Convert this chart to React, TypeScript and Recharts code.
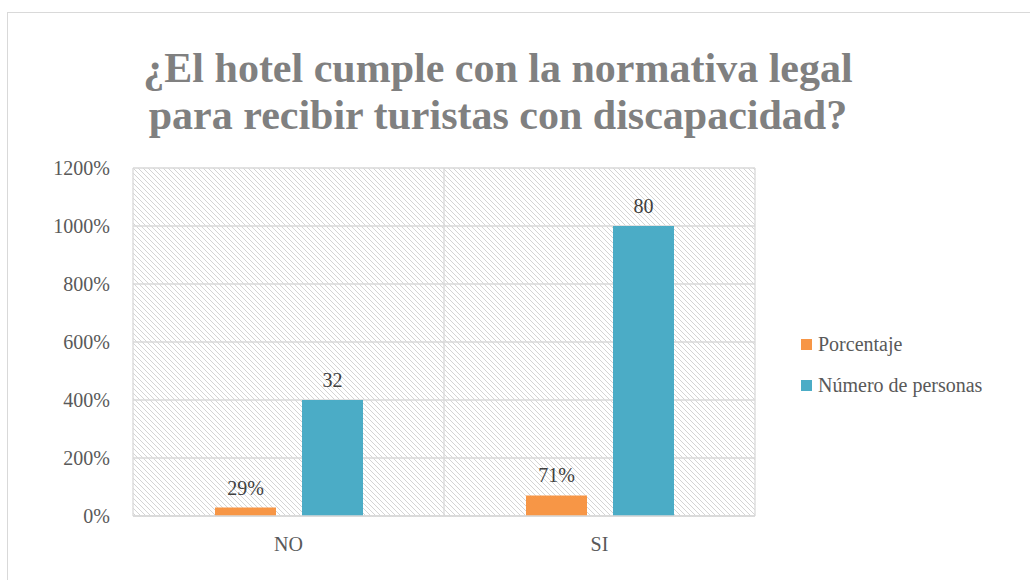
import React from "react";
import { Bar, BarChart, CartesianGrid, LabelList, XAxis, YAxis } from "recharts";

const categories = ["NO", "SI"];
const porcentaje = [0.29, 0.71];
const porcentajeLabels = ["29%", "71%"];
// bar heights as they sit on the percent axis (400%, 1000%)
const personasAxis = [4, 10];
const personasLabels = ["32", "80"];
const yTicks = [0, 2, 4, 6, 8, 10, 12];
const seriesNames = ["Porcentaje", "Número de personas"];

const ORANGE = "#F79646";
const TEAL = "#4BACC6";
const GRID = "#d9d9d9";
const FONT = "'Liberation Serif', 'Times New Roman', serif";
const seriesColors = [ORANGE, TEAL];

const data = categories.map((name, i) => ({
  name,
  porcentaje: porcentaje[i],
  porcentajeLabel: porcentajeLabels[i],
  personas: personasAxis[i],
  personasLabel: personasLabels[i],
}));

// serif face only comes out at <= 20px in this browser, so small text stays at 20
const labelStyle = { fontSize: 20, fill: "#404040", fontFamily: FONT };
const tickStyle = { fontSize: 20, fill: "#595959", fontFamily: FONT };

export default function App() {
  return (
    <div
      style={{
        position: "absolute",
        left: 0,
        top: 0,
        width: 1030,
        height: 580,
        overflow: "hidden",
        background: "#fff",
        fontFamily: FONT,
      }}
    >
      <div
        style={{
          position: "absolute",
          left: 7,
          top: 12,
          width: 1100,
          height: 700,
          border: `1px solid ${GRID}`,
        }}
      />
      <div
        style={{
          position: "absolute",
          left: 0,
          top: 45,
          width: 996,
          textAlign: "center",
          fontSize: 42,
          fontWeight: 700,
          lineHeight: "47px",
          color: "#808080",
        }}
      >
        ¿El hotel cumple con la normativa legal
        <br />
        para recibir turistas con discapacidad?
      </div>
      <div style={{ position: "absolute", left: 0, top: 0 }}>
        <BarChart
          width={1030}
          height={580}
          data={data}
          margin={{ top: 168, right: 275, bottom: 24, left: 33 }}
          barSize={61}
          barGap={26}
        >
          <defs>
            <pattern id="hatch" width="5" height="5" patternUnits="userSpaceOnUse">
              <rect width="5" height="5" fill="#fff" />
              <path d="M0,0 L5,5 M-1,4 L1,6 M4,-1 L6,1" stroke="#d4d4d4" strokeWidth="1" />
            </pattern>
          </defs>
          <CartesianGrid
            stroke={GRID}
            strokeWidth={1.3}
            fill="url(#hatch)"
            fillOpacity={1}
            verticalCoordinatesGenerator={({ offset }: any) => [
              offset.left,
              offset.left + offset.width / 2,
              offset.left + offset.width,
            ]}
          />
          <XAxis
            dataKey="name"
            tickLine={false}
            axisLine={{ stroke: GRID, strokeWidth: 1.3 }}
            height={40}
            tickMargin={15}
            tick={tickStyle}
          />
          <YAxis
            width={100}
            domain={[0, 12]}
            ticks={yTicks}
            tickLine={false}
            axisLine={false}
            tickMargin={17}
            tickFormatter={(v: number) => `${Math.round(v * 100)}%`}
            tick={tickStyle}
          />
          <Bar dataKey="porcentaje" name={seriesNames[0]} fill={ORANGE} isAnimationActive={false}>
            <LabelList dataKey="porcentajeLabel" position="top" offset={13} style={labelStyle} />
          </Bar>
          <Bar dataKey="personas" name={seriesNames[1]} fill={TEAL} isAnimationActive={false}>
            <LabelList dataKey="personasLabel" position="top" offset={13} style={labelStyle} />
          </Bar>
        </BarChart>
      </div>
      <div style={{ position: "absolute", left: 801, top: 324, fontSize: 20, color: "#595959" }}>
        {seriesNames.map((name, i) => (
          <div key={name} style={{ display: "flex", alignItems: "center", height: 41 }}>
            <span
              style={{
                width: 11,
                height: 11,
                background: seriesColors[i],
                marginRight: 6,
                display: "inline-block",
              }}
            />
            <span>{name}</span>
          </div>
        ))}
      </div>
    </div>
  );
}
